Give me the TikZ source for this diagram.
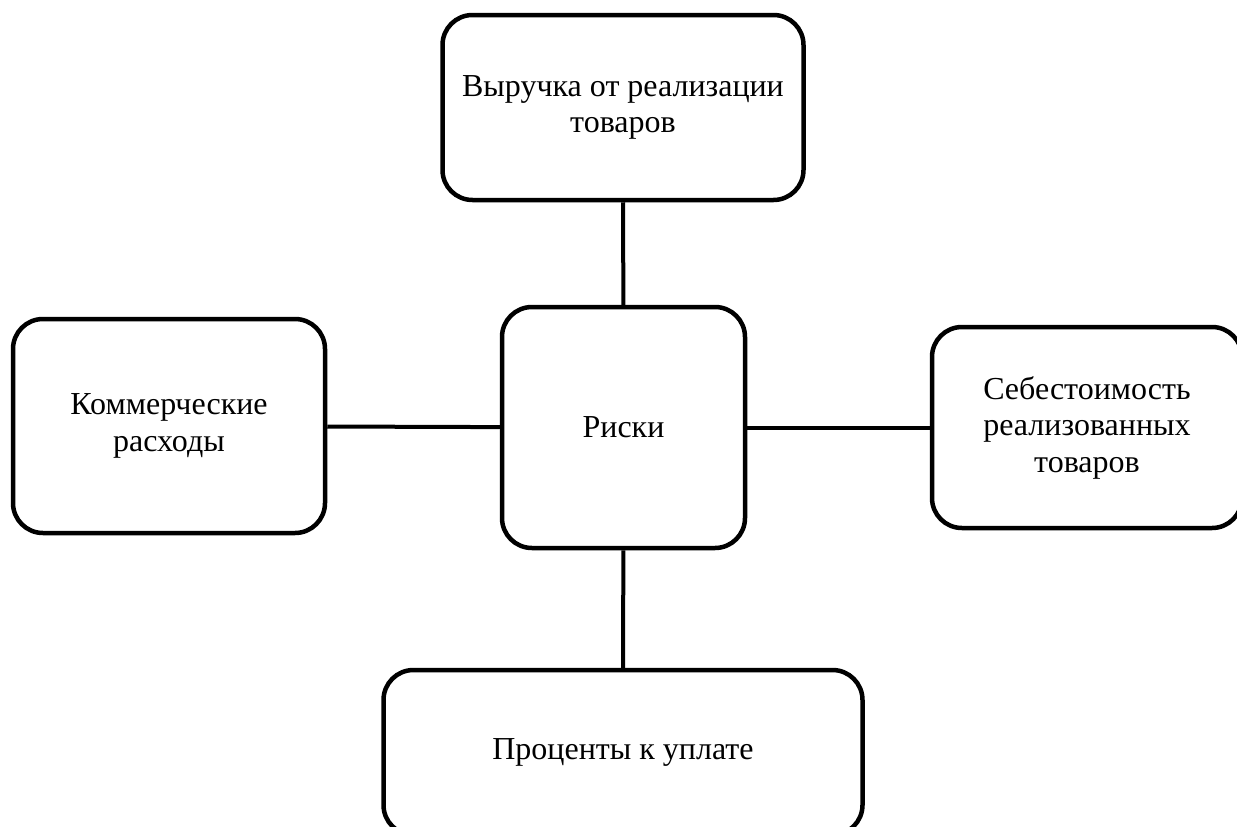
\documentclass[tikz,border=0pt]{standalone}
\usepackage{fontspec}
\setmainfont{Liberation Serif}
\begin{document}
\begin{tikzpicture}[x=1pt,y=-1pt,
  box/.style={draw, line width=4.5pt, rounded corners=30pt, align=center,
    inner sep=0pt, font=\fontsize{32}{36.5}\selectfont},
  link/.style={line width=4pt}]
\useasboundingbox (0,0) rectangle (1237,827);
\clip (0,0) rectangle (1237,827);
\node[box, minimum width=361pt, minimum height=185pt] (top) at (623,107.5) {Выручка от реализации\\товаров};
\node[box, minimum width=243pt, minimum height=241pt] (risk) at (623.5,427.5) {Риски};
\node[box, minimum width=312pt, minimum height=214pt] (left) at (169,426) {Коммерческие\\расходы};
\node[box, minimum width=310pt, minimum height=201pt] (right) at (1087,427.5) {Себестоимость\\реализованных\\товаров};
\node[box, minimum width=479pt, minimum height=165pt] (bottom) at (623,752.5) {Проценты к уплате};
\draw[link] (top) -- (risk);
\draw[link] (left) -- (risk);
\draw[link] (risk) -- (right);
\draw[link] (risk) -- (bottom);
\end{tikzpicture}
\end{document}
